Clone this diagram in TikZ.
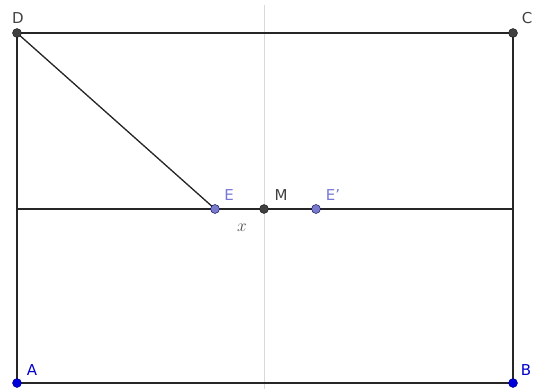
\documentclass[tikz,border=0pt]{standalone}
\usepackage{fontspec}
\setsansfont{DejaVu Sans}
\begin{document}
\begin{tikzpicture}[x=1pt,y=-1pt,
  seg/.style={line width=1.3pt,black!85},
  dark/.style={circle,fill=black!75,draw=black!90,inner sep=0pt,minimum size=9pt},
  bluept/.style={circle,fill=blue!85!black,draw=blue!50!black,inner sep=0pt,minimum size=9pt},
  lightpt/.style={circle,fill=blue!40!white!80!black,draw=blue!30!black,inner sep=0pt,minimum size=9pt},
  lab/.style={font=\sffamily\fontsize{15}{18}\selectfont,inner sep=0pt},
  darklab/.style={lab,text=black!75},
  bluelab/.style={lab,text=blue!80!black},
  lightlab/.style={lab,text=blue!45!white!85!black}]
\useasboundingbox (0,0) rectangle (535,389);
\coordinate (top) at (264,5);
\coordinate (bot) at (264,389);
\draw[black!15,line width=1pt] (top) -- (bot);
\coordinate (L) at (17,209);
\coordinate (R) at (513,209);
\coordinate (Dc) at (17,33);
\coordinate (Cc) at (513,33);
\coordinate (Ac) at (17,383);
\coordinate (Bc) at (513,383);
\coordinate (Ec) at (215,209);
\draw[seg] (Dc) -- (Cc) -- (Bc) -- (Ac) -- cycle;
\draw[seg] (L) -- (R);
\draw[seg] (Dc) -- (Ec);
\node[dark] (D) at (Dc) {};
\node[dark] (C) at (Cc) {};
\node[bluept] (A) at (Ac) {};
\node[bluept] (B) at (Bc) {};
\node[dark] (M) at (264,209) {};
\node[lightpt] (E) at (Ec) {};
\node[lightpt] (E2) at (316,209) {};
\node[darklab] (lD) at (18,18) {D};
\node[darklab] (lC) at (527,18) {C};
\node[bluelab] (lA) at (32,370) {A};
\node[bluelab] (lB) at (526,370) {B};
\node[lightlab] (lE) at (229,195) {E};
\node[darklab] (lM) at (281,195) {M};
\node[lightlab] (lE2) at (333,195) {E\symbol{39}};
\node[inner sep=0pt,text=black!70,font=\fontsize{17}{20}\selectfont] (lx) at (242,228) {$x$};
\end{tikzpicture}
\end{document}
